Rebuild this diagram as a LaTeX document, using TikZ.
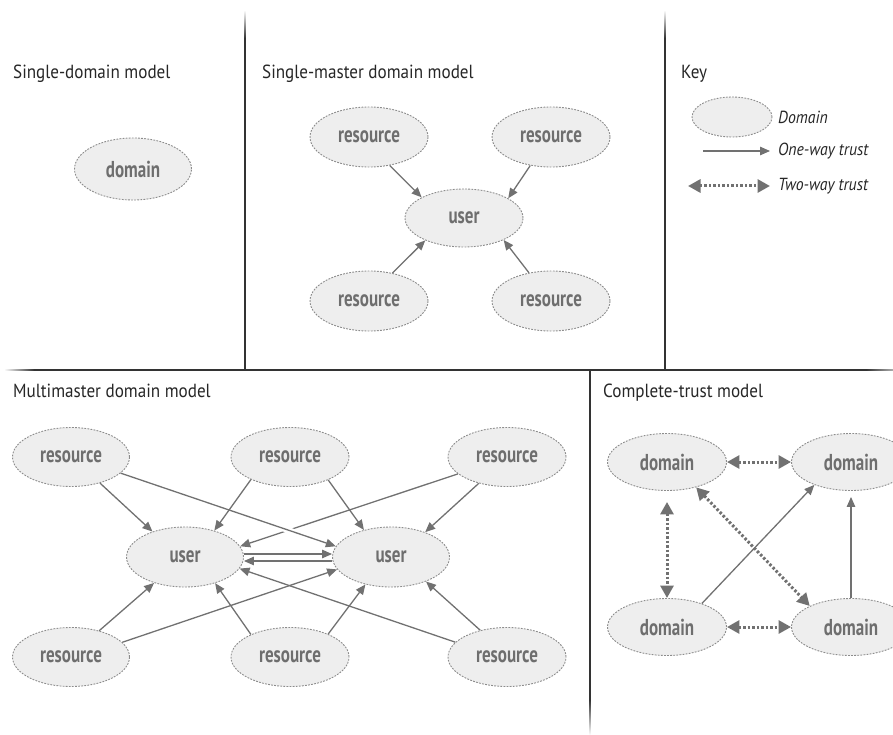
\documentclass[tikz,border=0pt]{standalone}
\usepackage{fontspec}
\setmainfont{PT Sans}
\newfontfamily\titlefont{PT Sans}[FakeStretch=0.9]
\newfontfamily\nodefont{PT Sans}[FakeStretch=0.74]
\usetikzlibrary{shapes.geometric,arrows.meta}

\definecolor{divclr}{HTML}{333333}
\definecolor{edgeclr}{HTML}{717171}
\definecolor{fillclr}{HTML}{EEEEEE}
\definecolor{borderclr}{HTML}{8C8C8C}
\definecolor{labelclr}{HTML}{6E6E6E}
\definecolor{textclr}{HTML}{262626}

\tikzset{
  dom/.style={ellipse, draw=borderclr, fill=fillclr, line width=0.9pt,
    dash pattern=on 1.8pt off 1.3pt, minimum width=118pt, minimum height=60pt,
    inner sep=0pt, text=labelclr,
    font={\nodefont\bfseries\fontsize{23}{25}\selectfont}},
  keydom/.style={dom, minimum width=80pt, minimum height=40pt},
  ttl/.style={anchor=base west, inner sep=0pt, text=textclr,
    font={\titlefont\fontsize{19}{22}\selectfont}},
  keytext/.style={anchor=west, inner sep=0pt, text=textclr,
    font={\titlefont\itshape\fontsize{17.5}{20}\selectfont}},
  oneway/.style={draw=edgeclr, line width=1.3pt,
    -{Triangle[length=10pt,width=8.5pt]}},
  twoway/.style={draw=edgeclr, line width=3pt, dash pattern=on 2.5pt off 2pt,
    {Triangle[length=12.5pt,width=13pt]}-{Triangle[length=12.5pt,width=13pt]}},
  halo/.style={preaction={draw=white, line width=6pt, arrows=-,
    shorten <=120pt, shorten >=30pt}}
}

\begin{document}
\begin{tikzpicture}[x=1pt, y=-1pt]
\useasboundingbox (0,0) rectangle (893,735);
\clip (0,0) rectangle (893,735);

% panel dividers, fading out at their free ends
\shade[top color=white, bottom color=divclr] (244.2,10) rectangle (245.8,38);
\fill[divclr] (244.2,38) rectangle (245.8,370.8);
\shade[top color=white, bottom color=divclr] (664.2,10) rectangle (665.8,38);
\fill[divclr] (664.2,38) rectangle (665.8,370.8);
\shade[left color=white, right color=divclr] (4,369.2) rectangle (34,370.8);
\fill[divclr] (34,369.2) rectangle (866,370.8);
\shade[left color=divclr, right color=divclr!40] (866,369.2) rectangle (893,370.8);
\fill[divclr] (589.2,369.2) rectangle (590.8,700);
\shade[top color=divclr, bottom color=white] (589.2,700) rectangle (590.8,735);

% titles
\node[ttl] (tSingle) at (13,79) {Single-domain model};
\node[ttl] (tMaster) at (262,79) {Single-master domain model};
\node[ttl] (tKey) at (681,79) {Key};
\node[ttl] (tMulti) at (13,397) {Multimaster domain model};
\node[ttl] (tComplete) at (603,397) {Complete-trust model};

% single-domain model
\node[dom, minimum width=117pt, minimum height=62pt] (sd) at (133,169) {domain};

% single-master domain model
\node[dom] (smA) at (369,137) {resource};
\node[dom] (smB) at (551,137) {resource};
\node[dom] (smC) at (369,301) {resource};
\node[dom] (smD) at (551,301) {resource};
\node[dom, minimum height=58pt] (smU) at (464,218) {user};
\draw[oneway] (smA.-54) -- (smU.154);
\draw[oneway] (smB.-126) -- (smU.24);
\draw[oneway] (smC.50) -- (smU.-150);
\draw[oneway] (smD.128) -- (smU.-29);

% key
\node[keydom] (kDom) at (732,117) {};
\node[keytext] (kDomText) at (778,117) {Domain};
\coordinate (kOneA) at (703,151);
\coordinate (kOneB) at (770,151);
\node[keytext] (kOneText) at (778,151) {One-way trust};
\coordinate (kTwoA) at (688,186);
\coordinate (kTwoB) at (770,186);
\node[keytext] (kTwoText) at (778,186) {Two-way trust};
\draw[oneway] (kOneA) -- (kOneB);
\draw[twoway] (kTwoA) -- (kTwoB);

% multimaster domain model
\node[dom, minimum width=117pt, minimum height=59pt] (mR1) at (71,457) {resource};
\node[dom, minimum height=59pt] (mR2) at (290,457) {resource};
\node[dom, minimum height=59pt] (mR3) at (507,457) {resource};
\node[dom, minimum width=117pt] (mU1) at (185,557) {user};
\node[dom, minimum width=117pt] (mU2) at (391,557) {user};
\node[dom, minimum width=117pt, minimum height=59pt] (mR4) at (71,657) {resource};
\node[dom, minimum height=59pt] (mR5) at (290,657) {resource};
\node[dom, minimum height=59pt] (mR6) at (507,657) {resource};

\draw[oneway] (mR3.-161) -- (mU1.11);
\draw[oneway, halo] (mR1.-18) -- (mU2.169);
\draw[oneway] (mR1.-42) -- (mU1.142);
\draw[oneway] (mR2.-150) -- (mU1.42);
\draw[oneway] (mR2.-31) -- (mU2.135);
\draw[oneway] (mR3.-137) -- (mU2.36);
\draw[oneway] (mR4.43) -- (mU1.-140);
\draw[oneway] (mR4.16) -- (mU2.-167);
\draw[oneway] (mR5.150) -- (mU1.-41);
\draw[oneway] (mR5.31) -- (mU2.-133);
\draw[oneway] (mR6.164) -- (mU1.-12);
\draw[oneway] (mR6.135) -- (mU2.-35);
\draw[oneway] ([yshift=3pt]mU1.east) -- ([yshift=3pt]mU2.west);
\draw[oneway] ([yshift=-4pt]mU2.west) -- ([yshift=-4pt]mU1.east);

% complete-trust model
\node[dom, minimum width=119pt, minimum height=57pt] (cA) at (667,462) {domain};
\node[dom, minimum width=119pt, minimum height=57pt] (cB) at (851,462) {domain};
\node[dom, minimum width=119pt, minimum height=57pt] (cC) at (667,627) {domain};
\node[dom, minimum width=119pt, minimum height=57pt] (cD) at (851,627) {domain};
\draw[twoway] (cA.east) -- (cB.west);
\draw[twoway] (cC.east) -- (cD.west);
\draw[twoway, shorten <=11pt] (cA.south) -- (cC.north);
\draw[twoway] (cA.-41) -- (cD.153);
\draw[oneway] (cC.34) -- (cB.-148);
\draw[oneway, shorten >=6pt] (cD.north) -- (cB.south);
\end{tikzpicture}
\end{document}
